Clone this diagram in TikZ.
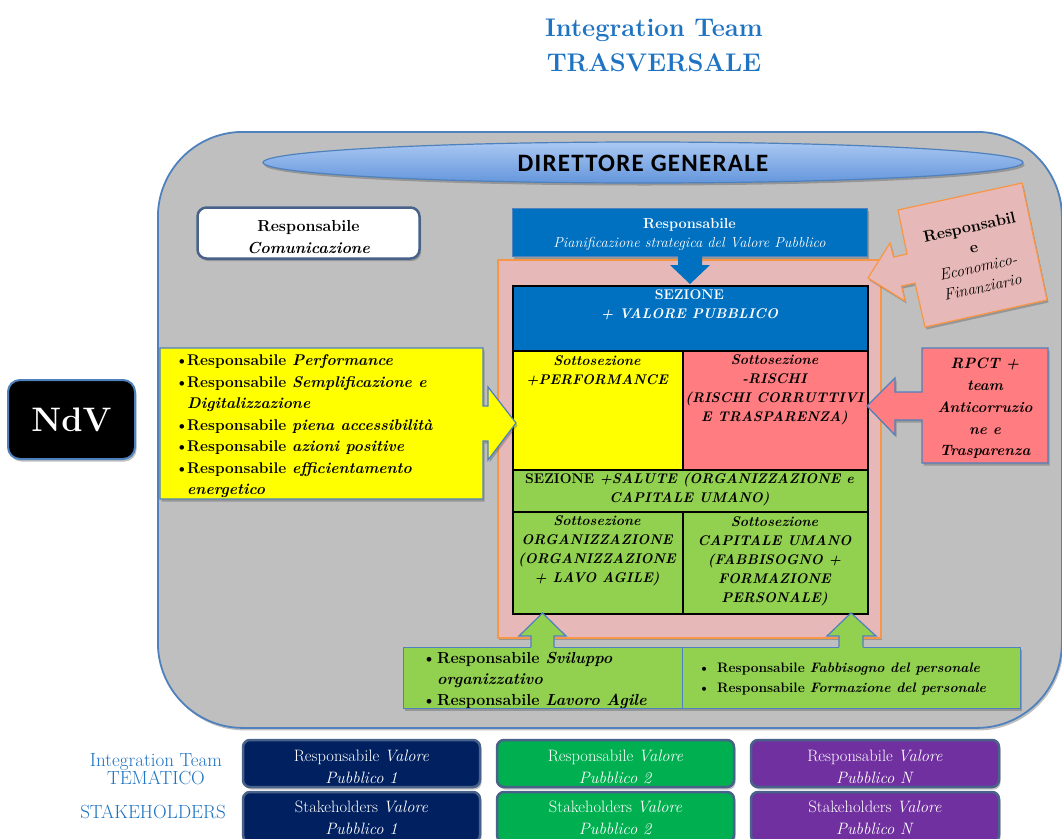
\documentclass[tikz,border=0pt]{standalone}
\usepackage{fontspec}
\newfontfamily\calibfont[LetterSpace=5]{Carlito}
\usetikzlibrary{shapes.geometric,shadows}
\definecolor{ttlblue}{RGB}{30,115,195}
\definecolor{cgray}{RGB}{191,191,191}
\definecolor{oblue}{RGB}{79,129,189}
\definecolor{ppink}{RGB}{230,184,183}
\definecolor{porange}{RGB}{247,150,70}
\definecolor{mblue}{RGB}{0,112,192}
\definecolor{myellow}{RGB}{255,255,0}
\definecolor{msalmon}{RGB}{255,124,128}
\definecolor{mgreen}{RGB}{146,208,80}
\definecolor{mnavy}{RGB}{0,32,96}
\definecolor{mgreenb}{RGB}{0,176,80}
\definecolor{mpurple}{RGB}{112,48,160}
\definecolor{bbord}{RGB}{72,98,138}
\definecolor{ellA}{RGB}{170,200,242}
\definecolor{ellB}{RGB}{100,150,220}
\newcommand\fsz[2]{\fontsize{#1}{#2}\selectfont}
\newcommand\bitem[1]{\makebox[#1][l]{\textbullet}}
\tikzset{
  shd/.style={drop shadow={shadow xshift=1.5pt,shadow yshift=-2.5pt,opacity=.35,fill=black!70}},
  txt/.style={inner sep=0pt,align=center},
  cell/.style={draw=black,line width=1.6pt,inner sep=0pt,anchor=north west},
  botbox/.style={draw=bbord,line width=2.5pt,rounded corners=7pt,inner sep=0pt,
     minimum width=237,minimum height=47,shd},
  bottxt/.style={txt,text=white,font=\fsz{16.5}{22}},
}
\begin{document}
\begin{tikzpicture}[x=1pt,y=-1pt]
\useasboundingbox (0,0) rectangle (1062,838);
\fill[white] (0,0) rectangle (1062,838);

% title
\node[txt,text=ttlblue,font=\bfseries\fsz{25.5}{35}] (title) at (654,45) {Integration Team\\TRASVERSALE};

% container
\node[draw=oblue,line width=1.8pt,fill=cgray,rounded corners=85pt,anchor=north west,
      minimum width=904,minimum height=596,inner sep=0pt,shd] (cont) at (157,131) {};

% direttore generale
\node[ellipse,draw=oblue,line width=1.2pt,top color=ellA,bottom color=ellB,
      minimum width=760,minimum height=41,inner sep=0pt,shd] (dg) at (643,162.5) {};
\node[txt,font=\calibfont\bfseries\fsz{25}{25}] (dgT) at (643,163.5) {DIRETTORE GENERALE};

% comunicazione
\node[draw=bbord,line width=2.5pt,fill=white,rounded corners=9pt,minimum width=222,
      minimum height=51,inner sep=0pt,shd] (com) at (308.5,233) {};
\node[txt,font=\bfseries\fsz{16}{22}] (comT) at (308.5,237) {Responsabile\\\textit{Comunicazione}};

% pink panel
\node[draw=porange,line width=1.5pt,fill=ppink,anchor=north west,minimum width=383,
      minimum height=378,inner sep=0pt,shd] (panel) at (497,259) {};

% pianificazione
\node[draw=oblue,line width=1pt,fill=mblue,anchor=north west,minimum width=355,
      minimum height=48,inner sep=0pt,shd] (pian) at (512,208) {};
\node[txt,text=white,font=\fsz{14.5}{19}] (pianT) at (689.5,234) {\textbf{Responsabile}\\\textit{Pianificazione strategica del Valore Pubblico}};
\fill[mblue] (678,255) -- (702,255) -- (702,265) -- (710,265) -- (690,284) -- (670,265) -- (678,265) -- cycle;

% table
\node[cell,fill=mblue,minimum width=355,minimum height=65] (vp) at (512,285) {};
\node[cell,fill=myellow,minimum width=170,minimum height=119] (perf) at (512,350) {};
\node[cell,fill=msalmon,minimum width=185,minimum height=119] (risk) at (682,350) {};
\node[cell,fill=mgreen,minimum width=355,minimum height=42] (sal) at (512,469) {};
\node[cell,fill=mgreen,minimum width=170,minimum height=102] (org) at (512,511) {};
\node[cell,fill=mgreen,minimum width=185,minimum height=102] (cap) at (682,511) {};

\node[txt,text=white,font=\bfseries\fsz{14}{19}] (vpT) at (689.5,305) {SEZIONE\\\textit{+ VALORE PUBBLICO}};
\node[txt,font=\bfseries\itshape\fsz{14}{19}] (perfT) at (597,371) {Sottosezione\\+PERFORMANCE};
\node[txt,font=\bfseries\itshape\fsz{14}{19}] (riskT) at (774.5,390) {Sottosezione\\-RISCHI\\(RISCHI CORRUTTIVI\\E TRASPARENZA)};
\node[txt,font=\bfseries\fsz{14}{19}] (salT) at (689.5,489) {SEZIONE \textit{+SALUTE (ORGANIZZAZIONE e}\\\textit{CAPITALE UMANO)}};
\node[txt,font=\bfseries\itshape\fsz{14}{19}] (orgT) at (597,551) {Sottosezione\\ORGANIZZAZIONE\\(ORGANIZZAZIONE\\+ LAVO AGILE)};
\node[txt,font=\bfseries\itshape\fsz{14}{19}] (capT) at (774.5,561) {Sottosezione\\CAPITALE UMANO\\(FABBISOGNO +\\FORMAZIONE\\PERSONALE)};

% yellow callout
\draw[draw=oblue,line width=1.2pt,fill=myellow,shd] (160,348) -- (483,348) -- (483,406) -- (488,406) -- (488,387)
   -- (516,423) -- (488,460) -- (488,441) -- (483,441) -- (483,499) -- (160,499) -- cycle;
\node[inner sep=0pt,align=left,anchor=west,font=\bfseries\fsz{15.5}{21.5}] (yelT) at (175,426.5) {%
\bitem{12pt}Responsabile \textit{Performance}\\
\bitem{12pt}Responsabile \textit{Semplificazione e}\\
\hspace*{12pt}\textit{Digitalizzazione}\\
\bitem{12pt}Responsabile \textit{piena accessibilità}\\
\bitem{12pt}Responsabile \textit{azioni positive}\\
\bitem{12pt}Responsabile \textit{efficientamento}\\
\hspace*{12pt}\textit{energetico}};

% RPCT callout
\draw[draw=oblue,line width=1.2pt,fill=msalmon,shd] (922,348) -- (1048,348) -- (1048,463) -- (922,463) -- (922,420)
   -- (895,420) -- (895,435) -- (867,406) -- (895,378) -- (895,392) -- (922,392) -- cycle;
\node[txt,font=\bfseries\itshape\fsz{15}{21.7}] (rpctT) at (985,408.5) {RPCT +\\team\\Anticorruzio\\ne e\\Trasparenza};

% economico-finanziario callout
\draw[draw=porange,line width=1.2pt,fill=ppink,shd] (898,210) -- (1022,183) -- (1047,300) -- (925,327) -- (915,283)
   -- (901.5,286) -- (905,301) -- (868,278) -- (890,243) -- (893.5,257) -- (907,254) -- cycle;
\node[txt,rotate=12.3,font=\fsz{16}{20.5}] (ecoT) at (976,257) {\textbf{Responsabil}\\\textbf{e}\\\textit{Economico-}\\\textit{Finanziario}};

% green boxes
\node[draw=oblue,line width=1.2pt,fill=mgreen,anchor=north west,minimum width=279,
      minimum height=61,inner sep=0pt,shd] (gl) at (403,647) {};
\node[draw=oblue,line width=1.2pt,fill=mgreen,anchor=north west,minimum width=338,
      minimum height=61,inner sep=0pt,shd] (gr) at (682,647) {};
\fill[mgreen] (531,648.5) -- (531,636) -- (519,636) -- (542.5,613) -- (566,636) -- (554,636) -- (554,648.5) -- cycle;
\draw[oblue,line width=1.2pt] (531,647) -- (531,636) -- (519,636) -- (542.5,613) -- (566,636) -- (554,636) -- (554,647);
\fill[mgreen] (839,648.5) -- (839,636) -- (827,636) -- (851,613) -- (876,636) -- (863,636) -- (863,648.5) -- cycle;
\draw[oblue,line width=1.2pt] (839,647) -- (839,636) -- (827,636) -- (851,613) -- (876,636) -- (863,636) -- (863,647);
\node[inner sep=0pt,align=left,anchor=west,font=\bfseries\fsz{16}{21}] (glT) at (422,680) {%
\bitem{15pt}Responsabile \textit{Sviluppo}\\
\hspace*{15pt}\textit{organizzativo}\\
\bitem{15pt}Responsabile \textit{Lavoro Agile}};
\node[inner sep=0pt,align=left,anchor=west,font=\bfseries\fsz{13.7}{20}] (grT) at (698,679.5) {%
\bitem{19pt}Responsabile \textit{Fabbisogno del personale}\\
\bitem{19pt}Responsabile \textit{Formazione del personale}};

% NdV
\node[draw=oblue,line width=2pt,fill=black,rounded corners=12pt,minimum width=127,
      minimum height=79,inner sep=0pt,shd] (ndv) at (71.5,419.5) {};
\node[txt,text=white,font=\bfseries\fsz{34}{34}] (ndvT) at (ndv.center) {NdV};

% bottom rows
\node[txt,text=ttlblue,font=\fsz{19}{18}] (itt) at (156,769) {Integration Team\\TEMATICO};
\node[txt,text=ttlblue,font=\fsz{19}{19}] (stk) at (153,812) {STAKEHOLDERS};

\node[botbox,fill=mnavy] (r1) at (361.5,763.5) {};
\node[botbox,fill=mgreenb] (r2) at (615.5,763.5) {};
\node[botbox,fill=mpurple,minimum width=248] (r3) at (875,763.5) {};
\node[botbox,fill=mnavy,minimum height=50] (s1) at (361.5,817) {};
\node[botbox,fill=mgreenb,minimum height=50] (s2) at (615.5,817) {};
\node[botbox,fill=mpurple,minimum height=50,minimum width=248] (s3) at (875,817) {};

\node[bottxt] (r1T) at (361.5,766.5) {Responsabile \textit{Valore}\\\textit{Pubblico 1}};
\node[bottxt] (r2T) at (615.5,766.5) {Responsabile \textit{Valore}\\\textit{Pubblico 2}};
\node[bottxt] (r3T) at (875,766.5) {Responsabile \textit{Valore}\\\textit{Pubblico N}};
\node[bottxt] (s1T) at (361.5,818) {Stakeholders \textit{Valore}\\\textit{Pubblico 1}};
\node[bottxt] (s2T) at (615.5,818) {Stakeholders \textit{Valore}\\\textit{Pubblico 2}};
\node[bottxt] (s3T) at (875,818) {Stakeholders \textit{Valore}\\\textit{Pubblico N}};
\end{tikzpicture}
\end{document}
